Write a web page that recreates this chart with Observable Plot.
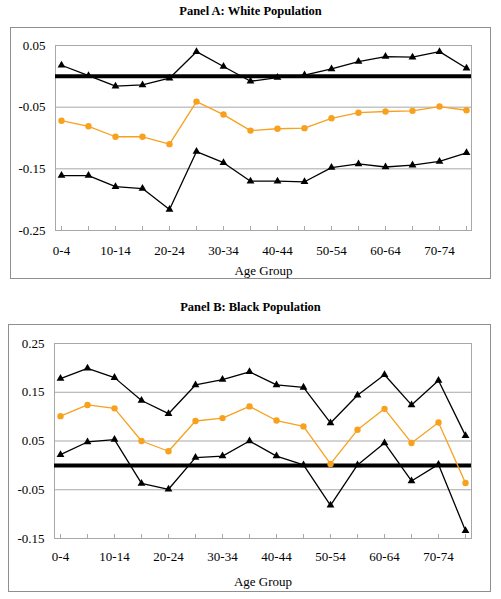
<!DOCTYPE html>
<html>
<head>
<meta charset="utf-8">
<script src="https://cdn.jsdelivr.net/npm/d3@7"></script>
<script src="https://cdn.jsdelivr.net/npm/@observablehq/plot@0.6"></script>
<style>
  html, body { margin: 0; padding: 0; background: #fff; }
  body { width: 501px; height: 599px; position: relative; overflow: hidden; font-family: "Liberation Serif", "Times New Roman", serif; }
  .title { position: absolute; left: 0; width: 501px; text-align: center; font-weight: bold; font-size: 12.5px; line-height: 14px; color: #000; }
  .box { position: absolute; border: 1px solid #8f8f8f; box-sizing: border-box; }
  .box svg { position: absolute; left: 0; top: 0; }
</style>
</head>
<body>
<div class="title" style="top:4px;">Panel A: White Population</div>
<div class="box" id="boxA" style="left:10px; top:27px; width:481px; height:252px;"></div>
<div class="title" style="top:300px;">Panel B: Black Population</div>
<div class="box" id="boxB" style="left:8px; top:324px; width:483px; height:268px;"></div>
<script>
const ageGroups = ["0-4","5-9","10-14","15-19","20-24","25-29","30-34","35-39","40-44","45-49","50-54","55-59","60-64","65-69","70-74","75-79"];
const xTickLabels = ["0-4","10-14","20-24","30-34","40-44","50-54","60-64","70-74"];

const whiteUpper    = [0.018, 0.001, -0.016, -0.014, -0.003, 0.040, 0.016, -0.008, -0.002, 0.002, 0.012, 0.024, 0.032, 0.031, 0.040, 0.013];
const whiteEstimate = [-0.072, -0.081, -0.098, -0.098, -0.110, -0.041, -0.062, -0.088, -0.085, -0.084, -0.068, -0.059, -0.057, -0.056, -0.049, -0.055];
const whiteLower    = [-0.161, -0.161, -0.179, -0.182, -0.216, -0.122, -0.140, -0.170, -0.170, -0.171, -0.148, -0.142, -0.147, -0.144, -0.138, -0.124];
const whiteTicks    = [0.05, -0.05, -0.15, -0.25];

const blackUpper    = [0.178, 0.199, 0.180, 0.133, 0.106, 0.165, 0.176, 0.192, 0.165, 0.160, 0.087, 0.144, 0.186, 0.124, 0.174, 0.061];
const blackEstimate = [0.101, 0.124, 0.117, 0.050, 0.029, 0.091, 0.097, 0.121, 0.092, 0.080, 0.003, 0.073, 0.116, 0.046, 0.088, -0.036];
const blackLower    = [0.022, 0.048, 0.053, -0.037, -0.049, 0.016, 0.019, 0.050, 0.019, 0.001, -0.082, 0.001, 0.046, -0.032, 0.002, -0.134];
const blackTicks    = [0.25, 0.15, 0.05, -0.05, -0.15];

const ORANGE = "#F7A11E";
const GRID = "#a8a8a8";
const FONT = "'Liberation Serif', 'Times New Roman', serif";

function rows(values) {
  return ageGroups.map((age, i) => ({age, value: values[i]}));
}

function panel({upper, estimate, lower, ticks, width, height, margins, xLabelPad, titleDy}) {
  const [mt, mr, mb, ml] = margins;
  const plotH = height - mt - mb;
  const up = rows(upper), est = rows(estimate), lo = rows(lower);
  return Plot.plot({
    width, height,
    marginTop: mt, marginRight: mr, marginBottom: mb, marginLeft: ml,
    style: {fontFamily: FONT, fontSize: "13px", color: "#000", background: "transparent", overflow: "visible"},
    x: {type: "point", domain: ageGroups, padding: 0, label: null},
    y: {domain: [d3.min(ticks), d3.max(ticks)], label: null},
    marks: [
      Plot.gridY(ticks, {stroke: GRID, strokeOpacity: 1, strokeWidth: 1}),
      Plot.frame({stroke: GRID, strokeWidth: 1}),
      Plot.ruleX(ageGroups, {x: d => d, stroke: GRID, strokeWidth: 1, insetTop: plotH - 4}),
      Plot.axisY(ticks, {tickSize: 0, tickPadding: 10, tickFormat: d => d.toFixed(2), fill: "#000", label: null}),
      Plot.axisX(xTickLabels, {tickSize: 0, tickPadding: xLabelPad, fill: "#000", label: null}),
      Plot.text(["Age Group"], {frameAnchor: "bottom", dy: titleDy, fill: "#000", fontSize: 13}),
      Plot.ruleY([0], {stroke: "#000", strokeWidth: 4}),
      Plot.line(up, {x: "age", y: "value", stroke: "#000", strokeWidth: 1.3}),
      Plot.line(lo, {x: "age", y: "value", stroke: "#000", strokeWidth: 1.3}),
      Plot.line(est, {x: "age", y: "value", stroke: ORANGE, strokeWidth: 1.3}),
      Plot.dot(up, {x: "age", y: "value", symbol: "triangle", r: 2.9, fill: "#000", stroke: "none"}),
      Plot.dot(lo, {x: "age", y: "value", symbol: "triangle", r: 2.9, fill: "#000", stroke: "none"}),
      Plot.dot(est, {x: "age", y: "value", r: 3.2, fill: ORANGE, stroke: "none"})
    ]
  });
}

const chartA = panel({
  upper: whiteUpper, estimate: whiteEstimate, lower: whiteLower, ticks: whiteTicks,
  width: 479, height: 250, margins: [17, 19, 48, 44], xLabelPad: 15, titleDy: 44
});
document.getElementById("boxA").appendChild(chartA);

const chartB = panel({
  upper: blackUpper, estimate: blackEstimate, lower: blackLower, ticks: blackTicks,
  width: 481, height: 266, margins: [18, 19, 53, 45], xLabelPad: 13, titleDy: 47
});
document.getElementById("boxB").appendChild(chartB);
</script>
</body>
</html>
